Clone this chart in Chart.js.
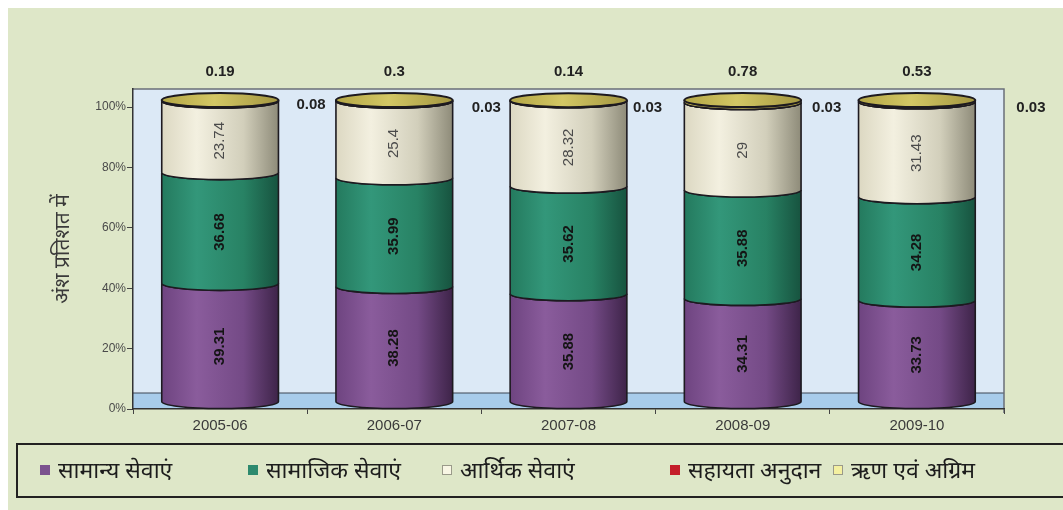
<!DOCTYPE html>
<html>
<head>
<meta charset="utf-8">
<script src="https://cdn.jsdelivr.net/npm/chart.js@4.4.0/dist/chart.umd.min.js"></script>
<style>
  html, body { margin: 0; padding: 0; background: #fff; }
  #wrap { position: relative; width: 1063px; height: 510px; overflow: hidden; }
  #panel { position: absolute; left: 8px; top: 8px; right: 0; bottom: 0; background: #dee7c8; }
  #chart { position: absolute; left: 0; top: 0; }
  #legend { position: absolute; left: 16px; top: 443px; width: 1070px; height: 55px;
            border: 2px solid #222; box-sizing: border-box; }
  .item { position: absolute; top: 0; height: 51px; line-height: 49px; white-space: nowrap;
          font-family: "Noto Sans", "Noto Sans Devanagari", sans-serif; font-size: 23px; color: #1c1c1c; }
  .item i { position: absolute; top: 20px; width: 10px; height: 10px; box-sizing: border-box; }
</style>
</head>
<body>
<div id="wrap">
  <div id="panel"></div>
  <canvas id="chart" width="1063" height="510"></canvas>
  <div id="legend"></div>
</div>
<script>
// शेयर (%) - व्यय के घटक
const years = ["2005-06", "2006-07", "2007-08", "2008-09", "2009-10"];
const generalServices = [39.31, 38.28, 35.88, 34.31, 33.73];
const socialServices = [36.68, 35.99, 35.62, 35.88, 34.28];
const economicServices = [23.74, 25.4, 28.32, 29, 31.43];
const grantsInAid = [0.08, 0.03, 0.03, 0.03, 0.03];
const loansAdvances = [0.19, 0.3, 0.14, 0.78, 0.53];
const yTicks = [0, 20, 40, 60, 80, 100];

const seriesNames = ["सामान्य सेवाएं", "सामाजिक सेवाएं", "आर्थिक सेवाएं", "सहायता अनुदान", "ऋण एवं अग्रिम"];
const seriesColors = ["#7b528e", "#2d8a6e", "#f8f6e4", "#c41e2a", "#f4f0a0"];

// बेलन की छाया (बाएं से दाएं)
const shades = [
  [[0, "#6e4480"], [0.3, "#8a5c9c"], [0.7, "#744a86"], [1, "#3e2449"]],
  [[0, "#247a5e"], [0.3, "#33977a"], [0.7, "#288264"], [1, "#17533f"]],
  [[0, "#dcd8c2"], [0.3, "#f3f0e0"], [0.7, "#d2cfbb"], [1, "#8e8b79"]],
  [[0, "#a01820"], [0.5, "#d02830"], [1, "#701016"]],
  [[0, "#b8ab4a"], [0.4, "#d4c866"], [1, "#a0933c"]]
];
const capShade = [[0, "#b3a645"], [0.45, "#d3c765"], [1, "#a39640"]];

const RY = 7;
const grantLabelDx = [91, 92, 79, 84, 114];

const plotBg = {
  id: "plotBg",
  beforeDraw(chart) {
    const { ctx, chartArea: a, scales } = chart;
    const y0 = scales.y.getPixelForValue(0);
    ctx.save();
    ctx.fillStyle = "#dce9f6";
    ctx.fillRect(a.left, a.top, a.right - a.left, a.bottom - a.top);
    // फर्श
    ctx.fillStyle = "#a8cceb";
    ctx.fillRect(a.left, y0 - 16, a.right - a.left, 16);
    ctx.strokeStyle = "#3c4654";
    ctx.lineWidth = 1.2;
    ctx.beginPath();
    ctx.moveTo(a.left, y0 - 16);
    ctx.lineTo(a.right, y0 - 16);
    ctx.stroke();
    ctx.strokeStyle = "#6a6f78";
    ctx.lineWidth = 1.5;
    ctx.beginPath();
    ctx.moveTo(a.left, a.top);
    ctx.lineTo(a.right, a.top);
    ctx.lineTo(a.right, a.bottom + 4);
    ctx.stroke();
    ctx.restore();
  }
};

const cylinders = {
  id: "cylinders",
  beforeDatasetsDraw(chart) {
    const ctx = chart.ctx;
    const metas = chart.data.datasets.map((d, i) => chart.getDatasetMeta(i));
    ctx.save();
    years.forEach((_, j) => {
      metas.forEach((meta, i) => {
        const el = meta.data[j];
        const rx = el.width / 2;
        const x0 = el.x - rx, x1 = el.x + rx;
        const top = Math.min(el.y, el.base) - RY;
        const bot = Math.max(el.y, el.base) - RY;
        const g = ctx.createLinearGradient(x0, 0, x1, 0);
        shades[i].forEach(([p, c]) => g.addColorStop(p, c));
        ctx.beginPath();
        ctx.moveTo(x0, top);
        ctx.lineTo(x0, bot);
        ctx.ellipse(el.x, bot, rx, RY, 0, Math.PI, 0, true);
        ctx.lineTo(x1, top);
        ctx.ellipse(el.x, top, rx, RY, 0, 0, Math.PI);
        ctx.closePath();
        ctx.fillStyle = g;
        ctx.fill();
        ctx.lineWidth = 1.6;
        ctx.strokeStyle = "#1d1a20";
        ctx.stroke();
      });
      // ऊपरी ढक्कन
      const el = metas[metas.length - 1].data[j];
      const rx = el.width / 2;
      const g = ctx.createLinearGradient(el.x - rx, 0, el.x + rx, 0);
      capShade.forEach(([p, c]) => g.addColorStop(p, c));
      ctx.beginPath();
      ctx.ellipse(el.x, el.y - RY, rx, RY, 0, 0, Math.PI * 2);
      ctx.fillStyle = g;
      ctx.fill();
      ctx.lineWidth = 2;
      ctx.strokeStyle = "#1d1a20";
      ctx.stroke();
    });
    ctx.restore();
    // डिफ़ॉल्ट बार नहीं बनाने हैं
    return false;
  }
};

const valueLabels = {
  id: "valueLabels",
  afterDraw(chart) {
    const ctx = chart.ctx;
    const a = chart.chartArea;
    ctx.save();
    ctx.textAlign = "center";
    ctx.textBaseline = "middle";
    [0, 1, 2].forEach(i => {
      const meta = chart.getDatasetMeta(i);
      meta.data.forEach((el, j) => {
        ctx.save();
        ctx.translate(el.x, (el.y + el.base) / 2 - 3);
        ctx.rotate(-Math.PI / 2);
        ctx.font = (i < 2 ? "bold " : "") + "15px 'Liberation Sans', Arial, sans-serif";
        ctx.fillStyle = i < 2 ? "#141414" : "#4a4a4a";
        ctx.fillText(String(chart.data.datasets[i].data[j]), 0, 0);
        ctx.restore();
      });
    });
    ctx.font = "bold 15px 'Liberation Sans', Arial, sans-serif";
    ctx.fillStyle = "#222";
    chart.getDatasetMeta(4).data.forEach((el, j) => {
      ctx.fillText(String(loansAdvances[j]), el.x, a.top - 17);
    });
    chart.getDatasetMeta(3).data.forEach((el, j) => {
      ctx.fillText(String(grantsInAid[j]), el.x + grantLabelDx[j], j === 0 ? 105 : 108);
    });
    ctx.restore();
  }
};

const seriesData = [generalServices, socialServices, economicServices, grantsInAid, loansAdvances];

new Chart(document.getElementById("chart"), {
  type: "bar",
  data: {
    labels: years,
    datasets: seriesData.map((d, i) => ({
      label: seriesNames[i],
      data: d,
      backgroundColor: seriesColors[i],
      barPercentage: 0.67,
      categoryPercentage: 1
    }))
  },
  options: {
    responsive: false,
    animation: false,
    layout: { padding: { left: 40, right: 59, top: 89, bottom: 71 } },
    plugins: {
      legend: { display: false },
      tooltip: { enabled: false }
    },
    scales: {
      x: {
        stacked: true,
        afterFit: s => { s.height = 30; },
        grid: { drawOnChartArea: false, tickLength: 5, color: "#444", offset: true },
        border: { color: "#333", width: 1.5 },
        ticks: { color: "#3a3a3a", padding: 3, font: { family: "'Liberation Sans', Arial, sans-serif", size: 15 } }
      },
      y: {
        stacked: true,
        min: 0,
        max: 106,
        afterFit: s => { s.width = 93; },
        afterBuildTicks: s => { s.ticks = yTicks.map(v => ({ value: v })); },
        grid: { drawOnChartArea: false, tickLength: 6, color: "#444" },
        border: { color: "#333", width: 1.5 },
        ticks: {
          color: "#4a4a4a",
          padding: 1,
          font: { family: "'Liberation Sans', Arial, sans-serif", size: 12 },
          callback: v => v + "%"
        },
        title: {
          display: true,
          text: "अंश प्रतिशत में",
          color: "#3a3a3a",
          padding: { top: 10 },
          font: { family: "'Noto Sans', 'Noto Sans Devanagari', sans-serif", size: 21 }
        }
      }
    }
  },
  plugins: [plotBg, cylinders, valueLabels]
});

// लीजेंड
const markerLeft = [40, 248, 442, 670, 833];
const legendEl = document.getElementById("legend");
seriesNames.forEach((name, i) => {
  const item = document.createElement("div");
  item.className = "item";
  item.style.left = (markerLeft[i] - 18) + "px";
  const sw = document.createElement("i");
  sw.style.left = "0px";
  sw.style.background = seriesColors[i];
  sw.style.border = i === 2 || i === 4 ? "1px solid #9a9a8a" : "none";
  const txt = document.createElement("span");
  txt.textContent = name;
  txt.style.marginLeft = "18px";
  item.appendChild(sw);
  item.appendChild(txt);
  legendEl.appendChild(item);
});
</script>
</body>
</html>
